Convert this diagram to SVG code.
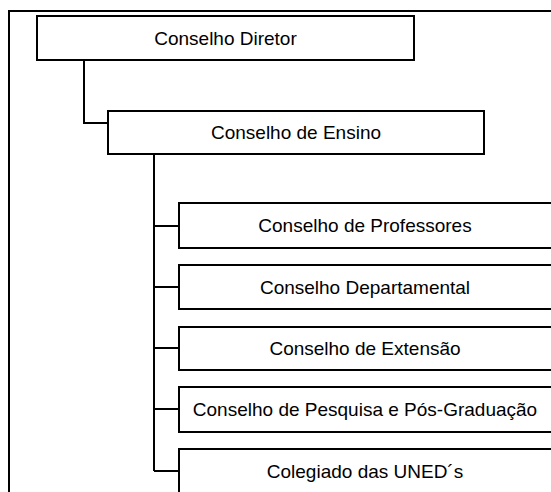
<svg xmlns="http://www.w3.org/2000/svg" width="551" height="492" viewBox="0 0 551 492">
<style>
.box{fill:#fff;stroke:#000;stroke-width:2}
.ln{fill:none;stroke:#000;stroke-width:2}
text{font-family:"Liberation Sans",Arial,sans-serif;font-size:19px;fill:#000;text-anchor:middle}
</style>
<rect width="551" height="492" fill="#fff"/>
<path class="ln" d="M9,492 V11 H552"/>
<g id="connectors">
<path class="ln" d="M84,60 V123 H108"/>
<path class="ln" d="M154,154 V471"/>
<path class="ln" d="M154,226 H179 M154,287 H179 M154,348 H179 M154,409 H179 M154,471 H179"/>
</g>
<g id="n-diretor"><rect class="box" x="37" y="16" width="377" height="44"/><text x="225.5" y="44.5">Conselho Diretor</text></g>
<g id="n-ensino"><rect class="box" x="108" y="111" width="376" height="43"/><text x="296" y="139">Conselho de Ensino</text></g>
<g id="n-professores"><rect class="box" x="179" y="203" width="375" height="45"/><text x="365" y="232">Conselho de Professores</text></g>
<g id="n-departamental"><rect class="box" x="179" y="265" width="375" height="44"/><text x="365" y="293.5">Conselho Departamental</text></g>
<g id="n-extensao"><rect class="box" x="179" y="327" width="375" height="43"/><text x="365" y="355">Conselho de Extensão</text></g>
<g id="n-pesquisa"><rect class="box" x="179" y="387" width="375" height="45"/><text x="365" y="416">Conselho de Pesquisa e Pós-Graduação</text></g>
<g id="n-uned"><rect class="box" x="179" y="449" width="375" height="50"/><text x="365" y="477.5">Colegiado das UNED´s</text></g>
</svg>
